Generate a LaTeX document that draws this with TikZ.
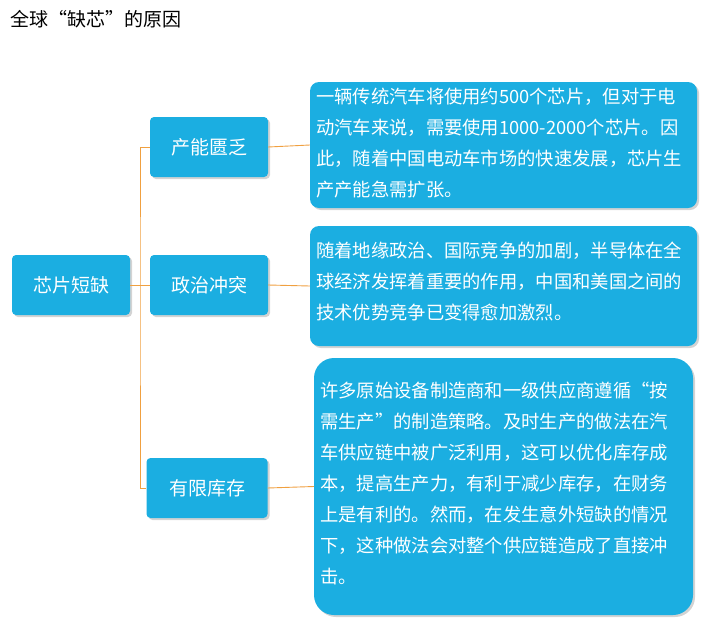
\documentclass[tikz,border=0pt]{standalone}
\usepackage{fontspec}
\setmainfont{Noto Sans CJK SC}
\usetikzlibrary{shadows}
\definecolor{bl}{HTML}{1BAEE1}
\definecolor{org}{HTML}{F0A040}
\begin{document}
\begin{tikzpicture}[x=1pt,y=-1pt,
 cat/.style={fill=bl,rounded corners=4pt,text=white,minimum width=118pt,minimum height=60pt,font=\fontsize{19}{22}\selectfont,drop shadow={opacity=0.35,shadow xshift=2pt,shadow yshift=-2pt}},
 tbox/.style={fill=bl,rounded corners=#1,drop shadow={opacity=0.35,shadow xshift=2pt,shadow yshift=-2pt}},
 ltxt/.style={anchor=north west,text=white,align=left,inner sep=0pt,font=\fontsize{18.3}{31}\selectfont},
 con/.style={draw=org,line width=0.9pt}]
\useasboundingbox (0,0) rectangle (707,643);
\node[anchor=west,font=\fontsize{19}{22}\selectfont,inner sep=0pt] (title) at (10,19) {全球“缺芯”的原因};
\node[cat] (root) at (71,285) {芯片短缺};
\node[cat] (a) at (209,147) {产能匮乏};
\node[cat] (b) at (209,285) {政治冲突};
\node[cat,minimum width=121pt] (c) at (207,488) {有限库存};
\node[tbox=9pt,minimum width=387pt,minimum height=126pt] (ta) at (503.5,145) {};
\node[tbox=9pt,minimum width=387pt,minimum height=120pt] (tb) at (503.5,286) {};
\node[tbox=20pt,minimum width=379pt,minimum height=257pt] (tc) at (503.5,486.5) {};
\node[ltxt] (la) at (316,88) {一辆传统汽车将使用约500个芯片，但对于电\\动汽车来说，需要使用1000-2000个芯片。因\\此，随着中国电动车市场的快速发展，芯片生\\产产能急需扩张。};
\node[ltxt] (lb) at (316,242) {随着地缘政治、国际竞争的加剧，半导体在全\\球经济发挥着重要的作用，中国和美国之间的\\技术优势竞争已变得愈加激烈。};
\node[ltxt] (lc) at (320,382) {许多原始设备制造商和一级供应商遵循“按\\需生产”的制造策略。及时生产的做法在汽\\车供应链中被广泛利用，这可以优化库存成\\本，提高生产力，有利于减少库存，在财务\\上是有利的。然而，在发生意外短缺的情况\\下，这种做法会对整个供应链造成了直接冲\\击。};
\coordinate (j) at (140,285);
\draw[con] (root.east) -- (j);
\draw[con] (a.west) -| (j) |- (c.west);
\draw[con] (j) -- (b.west);
\draw[con] (a.east) -- (ta.west);
\draw[con] (b.east) -- (tb.west);
\draw[con] (c.east) -- (tc.west);
\end{tikzpicture}
\end{document}
